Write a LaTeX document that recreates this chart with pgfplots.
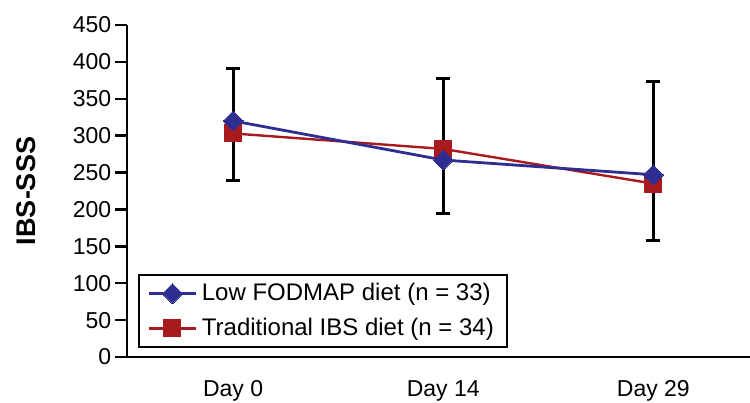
\documentclass[border=0pt]{standalone}
\usepackage{fontspec}
\setmainfont{Liberation Sans}
\usepackage{pgfplots}
\pgfplotsset{compat=1.18}
\definecolor{fodblue}{RGB}{46,46,146}
\definecolor{fodred}{RGB}{168,26,30}
\begin{document}
\fontsize{23}{27}\selectfont
\begin{tikzpicture}
\useasboundingbox (-127pt,-46pt) rectangle (623pt,357pt);
\begin{axis}[
  scale only axis, width=623pt, height=332pt,
  at={(0,0)}, anchor=south west,
  xmin=-0.505, xmax=2.46, ymin=0, ymax=450,
  axis x line*=bottom, axis y line*=left,
  axis line style={-, line width=2.8pt, black},
  /pgf/number format/assume math mode=true,
  ytick={0,50,...,450},
  tick align=outside, major tick length=12pt,
  ytick style={line width=2.5pt, black},
  yticklabel style={xshift=4pt},
  xtick={0,1,2}, xticklabels={Day 0,Day 14,Day 29},
  xtick style={draw=none},
  xticklabel style={yshift=-4pt},
  tick label style={font=\fontsize{23}{27}\selectfont},
  ylabel={IBS-SSS},
  ylabel style={at={(axis description cs:-0.161,0.5)}, anchor=center,
    font=\fontsize{27}{31}\selectfont\bfseries},
  clip=false,
  legend style={at={(axis description cs:0,0)}, anchor=south west,
    xshift=11pt, yshift=9pt, draw=black, line width=2.2pt,
    font=\fontsize{24}{28}\selectfont, inner xsep=9pt, inner ysep=6pt,
    nodes={inner xsep=4pt, inner ysep=2pt}, row sep=10pt, cells={anchor=west}},
  legend image code/.code={\draw[mark repeat=2, mark phase=2, #1]
    plot coordinates {(0pt,0pt) (23pt,0pt) (47pt,0pt)};},
  reverse legend,
]
% spread of the scores at each visit
\addplot[only marks, mark=none, forget plot,
  error bars/.cd, y dir=both, y explicit,
  error bar style={line width=3pt, black},
  error mark options={rotate=90, line width=3pt, black, mark size=7pt}]
  coordinates {
    (0,320) += (0,71) -= (0,81)
    (1,268) += (0,110) -= (0,73)
    (2,247) += (0,126) -= (0,89)
  };
\addplot[fodred, line width=2.4pt, mark=square*, mark size=8.5pt,
  mark options={fill=fodred, draw=fodred, line width=0pt}]
  coordinates {(0,303) (1,282) (2,235)};
\addlegendentry{Traditional IBS diet (n = 34)}
\addplot[fodblue, line width=2.8pt, mark=square*, mark size=7pt,
  mark options={rotate=45, fill=fodblue, draw=fodblue, line width=0pt}]
  coordinates {(0,320) (1,267) (2,247)};
\addlegendentry{Low FODMAP diet (n = 33)}
\end{axis}
\end{tikzpicture}
\end{document}
